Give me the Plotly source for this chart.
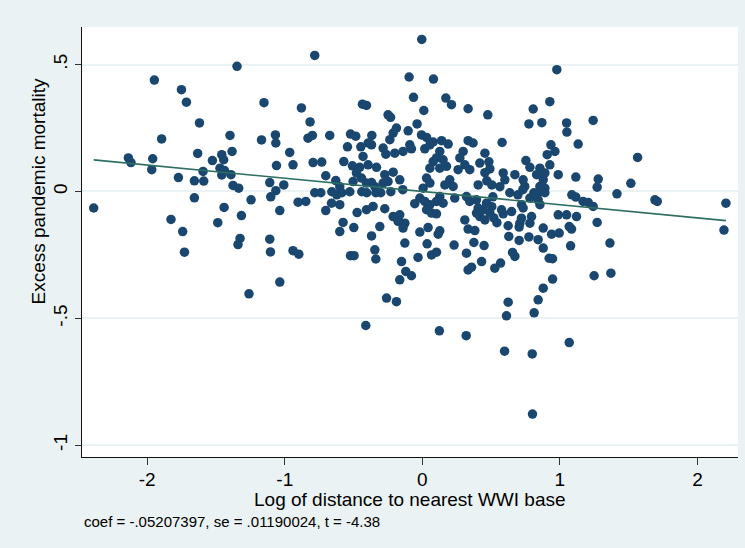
import plotly.graph_objects as go

# ---- data: (log distance to nearest WWI base, excess pandemic mortality) ----
pts_far_left = [(-1.347,0.493),(-1.948,0.439),(-1.751,0.401),(-1.715,0.352),(-1.620,0.270),(-1.398,0.221),
    (-1.895,0.207),(-1.383,0.158),(-1.633,0.150),(-2.137,0.132),(-2.118,0.114),(-1.960,0.129),(-1.526,0.122),
    (-1.458,0.145),(-1.444,0.125),(-1.967,0.086),(-1.594,0.079),(-1.471,0.092),(-1.439,0.083),(-1.458,0.065),
    (-1.391,0.066),(-1.773,0.055),(-1.657,0.042),(-1.589,0.041),(-1.376,0.024),(-1.335,0.013),(-1.245,-0.033),
    (-2.389,-0.065),(-1.657,-0.025),(-1.441,-0.063),(-1.827,-0.110),(-1.315,-0.095),(-1.487,-0.123),
    (-1.742,-0.158),(-1.325,-0.185),(-1.340,-0.209),(-1.729,-0.239),(-1.260,-0.403)]

pts_left_upper = [(-0.782,0.536),(-1.151,0.350),(-0.879,0.329),(-0.435,0.344),(-0.406,0.339),(-0.816,0.274),
    (-1.169,0.203),(-1.068,0.223),(-1.065,0.191),(-0.831,0.210),(-0.799,0.221),(-0.673,0.221),(-0.522,0.226),
    (-0.484,0.218),(-0.367,0.221),(-0.544,0.176),(-0.447,0.176),(-0.394,0.191),(-0.369,0.184),(-0.964,0.154),
    (-0.431,0.138),(-1.060,0.102),(-0.940,0.105),(-0.794,0.114),(-0.731,0.116),(-0.571,0.118),(-0.508,0.101),
    (-0.455,0.095),(-0.394,0.105),(-0.702,0.062),(-0.629,0.043),(-1.109,0.035),(-1.007,0.026),(-1.065,0.003),
    (-0.479,0.073),(-0.442,0.053),(-0.406,0.033),(-0.503,0.039),(-0.369,0.035),(-0.782,-0.005),(-0.738,-0.005),
    (-0.658,-0.001),(-0.622,-0.013),(-0.600,0.019),(-0.585,-0.005),(-0.527,-0.001),(-0.440,-0.001),(-0.404,-0.005)]

pts_left_lower = [(-1.102,-0.021),(-1.036,-0.075),(-0.903,-0.042),(-0.847,-0.039),(-0.660,-0.046),(-0.600,-0.052),
    (-0.702,-0.075),(-0.474,-0.083),(-0.406,-0.072),(-0.358,-0.059),(-0.576,-0.122),(-0.600,-0.158),(-0.498,-0.142),
    (-0.369,-0.175),(-1.109,-0.188),(-1.104,-0.238),(-0.940,-0.233),(-0.898,-0.247),(-0.522,-0.253),(-0.496,-0.253),
    (-0.345,-0.230),(-0.338,-0.266),(-1.036,-0.357),(-0.411,-0.528)]

pts_center_upper = [(-0.096,0.451),(0.081,0.443),(-0.004,0.599),(-0.064,0.371),(0.171,0.368),(0.212,0.342),
    (0.333,0.326),(0.476,0.302),(0.011,0.319),(-0.249,0.302),(-0.231,0.292),(-0.038,0.266),(-0.188,0.250),
    (-0.212,0.230),(-0.236,0.204),(-0.103,0.239),(-0.006,0.223),(0.031,0.213),(0.079,0.195),(0.140,0.200),
    (0.188,0.187),(0.333,0.200),(0.369,0.191),(-0.285,0.171),(-0.265,0.147),(-0.200,0.151),(-0.140,0.158),
    (-0.091,0.184),(-0.079,0.168),(0.018,0.168),(0.055,0.184),(0.127,0.158),(0.297,0.158),(0.455,0.151),
    (-0.333,0.095),(0.079,0.118),(0.103,0.132),(0.151,0.125),(0.176,0.099),(0.055,0.092),(0.127,0.092),
    (0.273,0.132),(0.309,0.105),(0.345,0.086),(0.260,0.086),(0.418,0.112),(0.484,0.117),(0.491,0.089),
    (0.455,0.074),(0.469,0.042),(0.505,0.026),(-0.273,0.066),(-0.212,0.076),(-0.164,0.046),(-0.249,0.039),
    (-0.285,0.033),(-0.345,0.019),(0.031,0.053),(0.055,0.033),(0.006,0.013),(0.200,0.046),(0.164,0.026),
    (0.224,0.020),(0.406,0.026),(-0.338,-0.005),(-0.302,-0.005),(-0.229,-0.001),(-0.142,0.007)]

pts_center_lower = [(-0.055,-0.048),(-0.018,-0.026),(0.018,-0.039),(0.055,-0.052),(0.103,-0.039),(0.151,-0.046),
    (0.127,-0.020),(0.031,-0.072),(0.067,-0.085),(0.103,-0.088),(0.236,-0.026),(0.321,-0.020),(0.345,-0.039),
    (0.394,-0.033),(0.406,-0.065),(0.442,-0.072),(0.467,-0.046),(0.505,-0.060),(0.394,-0.085),(0.418,-0.099),
    (0.455,-0.112),(0.491,-0.084),(-0.273,-0.068),(-0.212,-0.099),(-0.164,-0.092),(-0.176,-0.118),(-0.127,-0.125),
    (-0.140,-0.144),(-0.309,-0.138),(-0.018,-0.160),(0.042,-0.142),(0.127,-0.155),(0.115,-0.168),(0.309,-0.112),
    (0.333,-0.148),(0.382,-0.154),(-0.127,-0.203),(0.035,-0.206),(0.231,-0.211),(0.375,-0.201),(0.449,-0.213),
    (-0.031,-0.260),(0.067,-0.250),(0.103,-0.239),(0.321,-0.243),(-0.151,-0.276),(0.431,-0.276),(0.333,-0.309),
    (0.358,-0.298),(0.527,-0.302),(-0.120,-0.315),(-0.079,-0.332),(-0.164,-0.348),(-0.260,-0.420),(-0.188,-0.434),
    (0.124,-0.549),(0.319,-0.568)]

pts_right_upper = [(0.978,0.480),(0.927,0.354),(0.806,0.325),(0.775,0.266),(0.869,0.271),(1.049,0.270),
    (1.051,0.234),(1.242,0.280),(0.580,0.193),(0.935,0.184),(0.964,0.158),(0.908,0.145),(1.133,0.187),
    (0.753,0.122),(0.782,0.095),(0.927,0.105),(0.855,0.092),(0.891,0.073),(0.588,0.073),(0.673,0.066),
    (0.600,0.046),(0.988,0.066),(1.116,0.057),(1.279,0.049),(1.271,0.017),(0.831,0.066),(0.879,0.046),
    (0.855,0.020),(0.891,0.013),(0.733,0.046),(0.745,0.020),(0.564,0.019),(1.415,-0.009)]

pts_right_lower = [(0.513,-0.021),(0.636,-0.005),(0.695,-0.013),(0.731,0.007),(0.782,-0.026),(0.811,-0.005),
    (0.855,-0.001),(0.891,-0.005),(0.842,-0.033),(0.855,-0.052),(0.721,-0.052),(0.733,-0.065),(1.087,-0.013),
    (1.116,-0.022),(1.169,-0.039),(1.206,-0.043),(1.242,-0.059),(0.576,-0.072),(0.588,-0.088),(0.649,-0.079),
    (0.520,-0.104),(0.542,-0.123),(0.721,-0.105),(0.794,-0.099),(0.709,-0.125),(0.782,-0.125),(0.624,-0.135),
    (0.704,-0.140),(0.988,-0.092),(1.049,-0.092),(1.121,-0.099),(1.271,-0.122),(0.879,-0.144),(1.068,-0.138),
    (1.085,-0.148),(0.940,-0.168),(0.995,-0.164),(0.629,-0.177),(0.704,-0.193),(0.775,-0.179),(0.842,-0.190),
    (0.879,-0.223),(1.078,-0.214),(1.364,-0.203),(0.656,-0.240),(0.673,-0.256),(0.922,-0.263),(0.947,-0.265),
    (0.569,-0.282),(1.249,-0.332),(1.371,-0.322),(0.947,-0.345),(0.879,-0.381),(0.842,-0.427),(0.624,-0.436),
    (0.612,-0.490),(0.813,-0.478),(0.598,-0.629),(0.799,-0.640),(1.068,-0.595),(0.801,-0.877)]

pts_far_right = [(1.565,0.134),(1.516,0.032),(1.691,-0.033),(1.708,-0.039),(2.207,-0.046),(2.193,-0.152)]

coef = -0.05207397
intercept = 0.0
note_text = "coef = -.05207397, se = .01190024, t = -4.38"
x_tick_vals = [-2, -1, 0, 1, 2]
x_tick_text = ["-2", "-1", "0", "1", "2"]
y_tick_vals = [0.5, 0, -0.5, -1]
y_tick_text = [".5", "0", "-.5", "-1"]

all_pts = (pts_far_left + pts_left_upper + pts_left_lower + pts_center_upper +
           pts_center_lower + pts_right_upper + pts_right_lower + pts_far_right)
xs = [p[0] for p in all_pts]
ys = [p[1] for p in all_pts]

FONT = "Liberation Sans"
fig = go.Figure()
fig.add_trace(go.Scatter(x=xs, y=ys, mode="markers",
                         marker=dict(size=9.5, color="#1a476f", line=dict(width=0)),
                         showlegend=False, hoverinfo="skip"))
x_line = [min(xs), max(xs)]
fig.add_trace(go.Scatter(x=x_line, y=[intercept + coef * v for v in x_line], mode="lines",
                         line=dict(color="#2d6e60", width=1.6), showlegend=False, hoverinfo="skip"))

fig.update_layout(
    width=745, height=548,
    margin=dict(l=82, r=7, t=27, b=91),
    paper_bgcolor="#EAF2F3", plot_bgcolor="white",
    font=dict(family=FONT, size=19, color="black"),
    xaxis=dict(range=[-2.474, 2.295], tickvals=x_tick_vals, ticktext=x_tick_text,
               showgrid=False, zeroline=False, showline=True, linecolor="#111", linewidth=1,
               ticks="outside", ticklen=7, tickcolor="#333", tickwidth=1, ticklabelstandoff=-2,
               tickfont=dict(family=FONT, size=19, color="black")),
    yaxis=dict(range=[-1.046, 0.648], tickvals=y_tick_vals, ticktext=y_tick_text,
               showgrid=True, gridcolor="#EAF2F3", gridwidth=1.5, zeroline=False,
               showline=True, linecolor="#111", linewidth=1,
               ticks="outside", ticklen=6, tickcolor="#333", tickwidth=1, tickangle=-90,
               tickfont=dict(family=FONT, size=19, color="black")),
    annotations=[
        dict(text="Log of distance to nearest WWI base", xref="paper", yref="paper", x=0.5, y=0,
             yshift=-42, xanchor="center", yanchor="middle", showarrow=False,
             font=dict(family=FONT, size=19, color="black")),
        dict(text="Excess pandemic mortality", xref="paper", yref="y", x=0, y=0,
             xshift=-44, xanchor="center", yanchor="middle", textangle=-90, showarrow=False,
             font=dict(family=FONT, size=19, color="black")),
        dict(text=note_text, xref="paper", yref="paper", x=0, y=0, xshift=0, yshift=-64,
             xanchor="left", yanchor="middle", showarrow=False,
             font=dict(family=FONT, size=15, color="black")),
    ],
)

fig.write_html("out.html", config={"displayModeBar": False},
               post_script="document.body.style.margin='0';document.body.style.background='#EAF2F3';")
